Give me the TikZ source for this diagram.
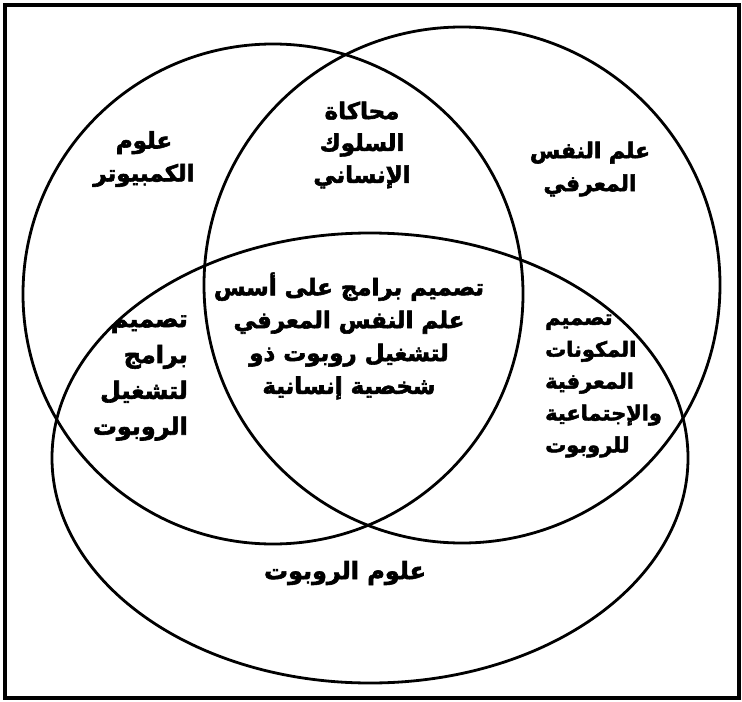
\documentclass[tikz,border=0pt]{standalone}
\usepackage{fontspec}
\TeXXeTstate=1
\newfontfamily\arabicfont[Script=Arabic, BoldFeatures={FakeBold=2.5}]{DejaVu Sans}
\newcommand\artxt[1]{\beginR #1\endR}
\begin{document}
\begin{tikzpicture}[x=1bp,y=-1bp,
  venn/.style={line width=2.8bp, draw=black},
  frame/.style={line width=3.2bp, draw=black},
  lbl/.style={font=\arabicfont\bfseries\fontsize{23}{33}\selectfont, align=center, inner sep=0pt}]
\useasboundingbox (0,0) rectangle (742,702);
\draw[frame] (5,5) rectangle (739,698);
% circles
\draw[venn] (273,294) circle[radius=250];
\draw[venn] (462,285) circle[radius=258];
\draw[venn] (370,458) ellipse[x radius=318, y radius=225];
% labels
\node[lbl] (cs) at (144,159) {\artxt{علوم}\\\artxt{الكمبيوتر}};
\node[lbl, font=\arabicfont\bfseries\fontsize{23}{32}\selectfont] (sim) at (362,145) {\artxt{محاكاة}\\\artxt{السلوك}\\\artxt{الإنساني}};
\node[lbl, font=\arabicfont\bfseries\fontsize{22}{33}\selectfont] (psy) at (590,169) {\artxt{علم النفس}\\\artxt{المعرفي}};
\node[lbl] (core) at (349,336) {\artxt{تصميم برامج على أسس}\\\artxt{علم النفس المعرفي}\\\artxt{لتشغيل روبوت ذو}\\\artxt{شخصية إنسانية}};
\node[lbl, align=right, anchor=east, font=\arabicfont\bfseries\fontsize{24}{36}\selectfont] (prog) at (188,378) {\artxt{تصميم}\\\artxt{برامج}\\\artxt{لتشغيل}\\\artxt{الروبوت}};
\node[lbl, align=left, anchor=west, font=\arabicfont\bfseries\fontsize{21}{32}\selectfont] (cog) at (545,386) {\artxt{تصميم}\\\artxt{المكونات}\\\artxt{المعرفية}\\\artxt{والإجتماعية}\\\artxt{للروبوت}};
\node[lbl, font=\arabicfont\bfseries\fontsize{24}{33}\selectfont] (rob) at (345,573) {\artxt{علوم الروبوت}};
\end{tikzpicture}
\end{document}
